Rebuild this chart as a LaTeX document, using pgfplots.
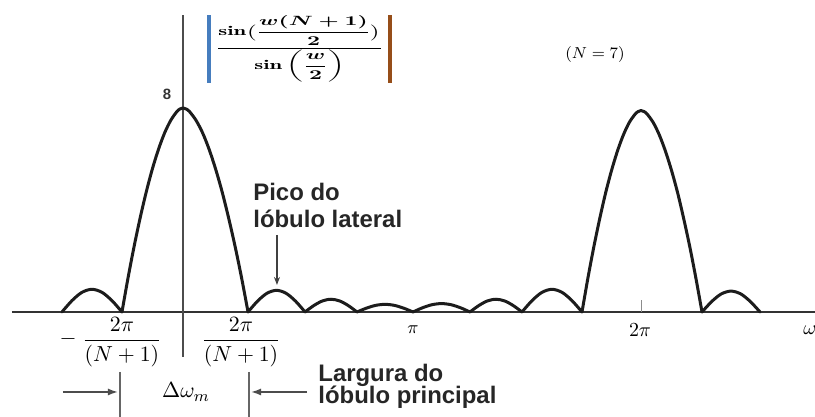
\documentclass[border=0pt]{standalone}
\usepackage{amsmath}
\usepackage{graphicx}
\usepackage{pgfplots}
\pgfplotsset{compat=1.18}
\usepackage{fontspec}
\newfontfamily\notefont{Liberation Sans}
\usetikzlibrary{arrows.meta}

\definecolor{curve}{RGB}{28,28,28}
\definecolor{barblue}{RGB}{70,125,190}
\definecolor{barbrown}{RGB}{150,78,25}

\tikzset{
  lobe/.style={curve, line width=1.5bp, smooth, mark=none, line join=round, line cap=round},
  note/.style={font=\notefont\bfseries\fontsize{12}{14}\selectfont, anchor=base west, inner sep=0pt, text=black!85},
}

\begin{document}
\begin{tikzpicture}
\begin{axis}[
  scale only axis, width=407.5bp, height=208.5bp,
  xmin=-2.510, xmax=8.669, ymin=-4.118, ymax=12.235,
  axis lines=none, clip=false,
]
% horizontal and vertical axes
\draw[curve!90, line width=1.2bp] (axis cs:-2.346,0) -- (axis cs:8.669,0);
\draw[black!70, line width=0.8bp] (axis cs:0,-1.765) -- (axis cs:0,11.647);
\draw[black!45, line width=0.5bp] (axis cs:6.283,0) -- (axis cs:6.283,0.47);

% |sin(w(N+1)/2) / sin(w/2)|, N = 7
% side lobe left of the main lobe
\addplot[lobe] coordinates {(-1.660,0) (-1.523,0.445) (-1.386,0.771) (-1.249,0.89) (-1.111,0.771) (-0.974,0.445) (-0.837,0)};
% main lobe at w = 0
\addplot[lobe] coordinates {(-0.837,0) (-0.753,1.35) (-0.670,2.58) (-0.586,3.71) (-0.502,4.73) (-0.419,5.62) (-0.335,6.39) (-0.251,7.03) (-0.167,7.52) (-0.084,7.86) (-0.042,7.96) (0,8)
  (0.045,7.96) (0.089,7.86) (0.178,7.52) (0.268,7.03) (0.357,6.39) (0.446,5.62) (0.535,4.73) (0.624,3.71) (0.714,2.58) (0.803,1.35) (0.892,0)};
% side lobes between 0 and 2pi
\addplot[lobe] coordinates {(0.892,0) (1.022,0.425) (1.153,0.736) (1.283,0.85) (1.413,0.736) (1.544,0.425) (1.674,0)};
\addplot[lobe] coordinates {(1.674,0) (1.793,0.25) (1.912,0.433) (2.031,0.5) (2.149,0.433) (2.268,0.25) (2.387,0)};
\addplot[lobe] coordinates {(2.387,0) (2.515,0.15) (2.643,0.26) (2.771,0.30) (2.899,0.26) (3.027,0.15) (3.155,0)};
\addplot[lobe] coordinates {(3.155,0) (3.285,0.165) (3.416,0.286) (3.546,0.33) (3.676,0.286) (3.807,0.165) (3.937,0)};
\addplot[lobe] coordinates {(3.937,0) (4.056,0.25) (4.175,0.433) (4.294,0.5) (4.412,0.433) (4.531,0.25) (4.650,0)};
\addplot[lobe] coordinates {(4.650,0) (4.787,0.445) (4.924,0.771) (5.062,0.89) (5.199,0.771) (5.336,0.445) (5.473,0)};
% main lobe at w = 2pi
\addplot[lobe] coordinates {(5.473,0) (5.554,1.33) (5.635,2.55) (5.716,3.66) (5.797,4.67) (5.878,5.55) (5.959,6.31) (6.040,6.94) (6.121,7.43) (6.202,7.76) (6.243,7.86) (6.283,7.9)
  (6.325,7.86) (6.367,7.76) (6.450,7.43) (6.534,6.94) (6.617,6.31) (6.701,5.55) (6.785,4.67) (6.868,3.66) (6.952,2.55) (7.035,1.33) (7.119,0)};
% side lobe right of it
\addplot[lobe] coordinates {(7.119,0) (7.252,0.41) (7.384,0.71) (7.517,0.82) (7.650,0.71) (7.782,0.41) (7.915,0)};

% peak value
\node[font=\notefont\bfseries\fontsize{7.5}{8}\selectfont, text=black!80] at (axis cs:-0.219,8.55) {8};

% the plotted expression, between coloured bars
\node[inner sep=0pt] at (axis cs:1.600,10.32) {\resizebox*{84bp}{33bp}{\boldmath$\dfrac{\sin\bigl(\dfrac{w(N+1)}{2}\bigr)}{\sin\left(\dfrac{w}{2}\right)}$}};
\draw[barblue, line width=1.8bp] (axis cs:0.357,8.98) -- (axis cs:0.357,11.647);
\draw[barbrown, line width=1.8bp] (axis cs:2.840,8.98) -- (axis cs:2.840,11.647);

\node[font=\fontsize{8}{9}\selectfont] at (axis cs:5.652,10.08) {$(N=7)$};

% side lobe note
\node[note] at (axis cs:0.960,4.39) {Pico do};
\node[note] at (axis cs:0.960,3.33) {lóbulo lateral};
\draw[-{Stealth[length=4bp,width=3bp]}, black!75, line width=0.6bp] (axis cs:1.289,3.02) -- (axis cs:1.289,1.06);

% frequency labels
\node[font=\fontsize{10.5}{11}\selectfont] at (axis cs:-1.577,-1.06) {$-$};
\node[font=\fontsize{10.5}{11}\selectfont] at (axis cs:-0.837,-1.18) {$\dfrac{2\pi}{(N+1)}$};
\node[font=\fontsize{10.5}{11}\selectfont] at (axis cs:0.796,-1.18) {$\dfrac{2\pi}{(N+1)}$};
\node[font=\fontsize{9}{10}\selectfont] at (axis cs:3.155,-0.71) {$\pi$};
\node[font=\fontsize{10}{11}\selectfont] at (axis cs:6.269,-0.71) {$2\pi$};
\node[font=\fontsize{10}{11}\selectfont] at (axis cs:8.60,-0.71) {$\omega$};

% main lobe width
\draw[black!60, line width=0.8bp] (axis cs:-0.864,-2.35) -- (axis cs:-0.864,-4.118);
\draw[black!60, line width=0.8bp] (axis cs:0.905,-2.35) -- (axis cs:0.905,-4.118);
\draw[-{Latex[length=5bp,width=3.5bp]}, black!70, line width=0.8bp] (axis cs:-1.646,-3.137) -- (axis cs:-0.892,-3.137);
\draw[-{Latex[length=5bp,width=3.5bp]}, black!70, line width=0.8bp] (axis cs:1.701,-3.137) -- (axis cs:0.933,-3.137);
\node[font=\fontsize{11}{12}\selectfont] at (axis cs:0.041,-3.14) {$\Delta\omega_m$};
\node[note] at (axis cs:1.852,-2.745) {Largura do};
\node[note] at (axis cs:1.852,-3.569) {lóbulo principal};
\end{axis}
\pgfresetboundingbox
\path (current axis.south west) rectangle (current axis.north east);
\end{tikzpicture}
\end{document}
